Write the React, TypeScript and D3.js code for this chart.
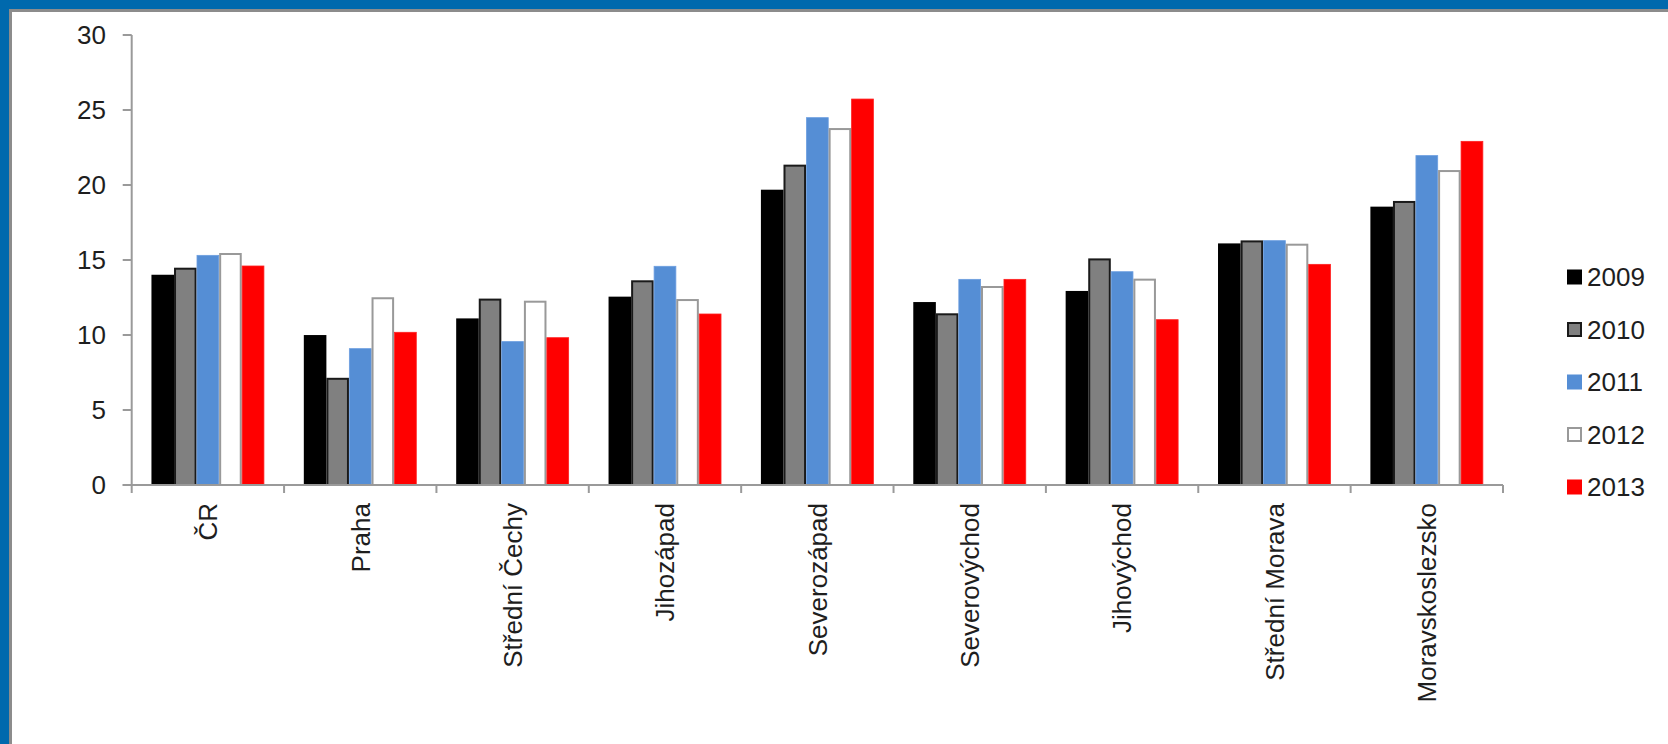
import React from 'react';
import * as d3 from 'd3';

const regions = ['ČR', 'Praha', 'Střední Čechy', 'Jihozápad', 'Severozápad', 'Severovýchod', 'Jihovýchod', 'Střední Morava', 'Moravskoslezsko'];
const years = ['2009', '2010', '2011', '2012', '2013'];

const v2009 = [13.95, 9.93, 11.04, 12.49, 19.62, 12.13, 12.87, 16.04, 18.49];
const v2010 = [14.42, 7.08, 12.36, 13.58, 21.29, 11.38, 15.04, 16.24, 18.87];
const v2011 = [15.31, 9.09, 9.56, 14.58, 24.49, 13.71, 14.22, 16.29, 21.96];
const v2012 = [15.4, 12.45, 12.22, 12.33, 23.73, 13.2, 13.69, 16.02, 20.93];
const v2013 = [14.6, 10.18, 9.82, 11.4, 25.73, 13.71, 11.02, 14.71, 22.91];

const yTicks = [0, 5, 10, 15, 20, 25, 30];

const series = [v2009, v2010, v2011, v2012, v2013];

// fill / stroke per year, Excel-like
const fills = ['#000000', '#808080', '#558ed5', '#ffffff', '#ff0000'];
const strokes = ['#000000', '#1a1a1a', '#6c9ee0', '#999999', '#ff2020'];

const W = 1668;
const H = 744;
const FONT = '"Liberation Sans", Arial, sans-serif';

const App: React.FC = () => {
  const left = 131.7;
  const right = 1503;
  const zeroY = 485;
  const topY = 35;

  const x = d3.scaleBand<string>().domain(regions).range([left, right]).padding(0);
  const bw = x.bandwidth();
  const gap = bw * 1.75 / 6.75;
  const xs = d3.scaleBand<string>().domain(years).range([gap / 2, bw - gap / 2]).padding(0);
  const y = d3.scaleLinear().domain([0, 30]).range([zeroY, topY]);

  const axisColor = '#9a9a9a';
  const textColor = '#1e1e1e';

  const legendY = d3.scalePoint<string>().domain(years).range([277, 487]);

  return (
    <svg
      width={W}
      height={H}
      viewBox={`0 0 ${W} ${H}`}
      style={{ position: 'absolute', left: 0, top: 0, display: 'block', background: '#fff' }}
    >
      {/* frame */}
      <rect x={0} y={0} width={W} height={H} fill="#ffffff" />
      <rect x={0} y={0} width={W} height={12} fill="#8c8c8c" />
      <rect x={0} y={0} width={12} height={H} fill="#8c8c8c" />
      <rect x={0} y={0} width={W} height={9} fill="#0069ad" />
      <rect x={0} y={0} width={9} height={H} fill="#0069ad" />

      {/* bars */}
      {regions.map((r, i) => (
        <g key={r} transform={`translate(${x(r)},0)`}>
          {years.map((yr, j) => {
            const v = series[j][i];
            const sw = j === 2 || j === 4 ? 0.8 : 2;
            return (
              <rect
                key={yr}
                x={(xs(yr) as number) + sw / 2}
                y={y(v)}
                width={xs.bandwidth() - sw}
                height={zeroY - y(v)}
                fill={fills[j]}
                stroke={strokes[j]}
                strokeWidth={sw}
              />
            );
          })}
        </g>
      ))}

      {/* y axis */}
      <line x1={left} x2={left} y1={topY} y2={zeroY} stroke={axisColor} strokeWidth={2} />
      {yTicks.map((t) => (
        <g key={t}>
          <line x1={left - 9} x2={left} y1={y(t)} y2={y(t)} stroke={axisColor} strokeWidth={2} />
          <text
            x={106}
            y={y(t)}
            dy="0.36em"
            textAnchor="end"
            fontFamily={FONT}
            fontSize={26}
            fill={textColor}
          >
            {t}
          </text>
        </g>
      ))}

      {/* x axis */}
      <line x1={left - 9} x2={right} y1={zeroY} y2={zeroY} stroke={axisColor} strokeWidth={2} />
      {[...regions.map((r) => x(r) as number), right].map((px, i) => (
        <line key={i} x1={px} x2={px} y1={zeroY} y2={zeroY + 8} stroke={axisColor} strokeWidth={2} />
      ))}
      {regions.map((r) => {
        const cx = (x(r) as number) + bw / 2;
        return (
          <text
            key={r}
            transform={`translate(${cx},503) rotate(-90)`}
            dy="0.36em"
            textAnchor="end"
            fontFamily={FONT}
            fontSize={26}
            fill={textColor}
          >
            {r}
          </text>
        );
      })}

      {/* legend */}
      {years.map((yr, j) => {
        const ly = legendY(yr) as number;
        const sw = j === 1 || j === 3 ? 2 : 0;
        return (
          <g key={yr}>
            <rect
              x={1567 + sw / 2}
              y={ly - 7.5 + sw / 2}
              width={15 - sw}
              height={15 - sw}
              fill={fills[j]}
              stroke={sw ? strokes[j] : 'none'}
              strokeWidth={sw}
            />
            <text
              x={1587}
              y={ly}
              dy="0.36em"
              fontFamily={FONT}
              fontSize={26}
              fill={textColor}
            >
              {yr}
            </text>
          </g>
        );
      })}
    </svg>
  );
};

export default App;
